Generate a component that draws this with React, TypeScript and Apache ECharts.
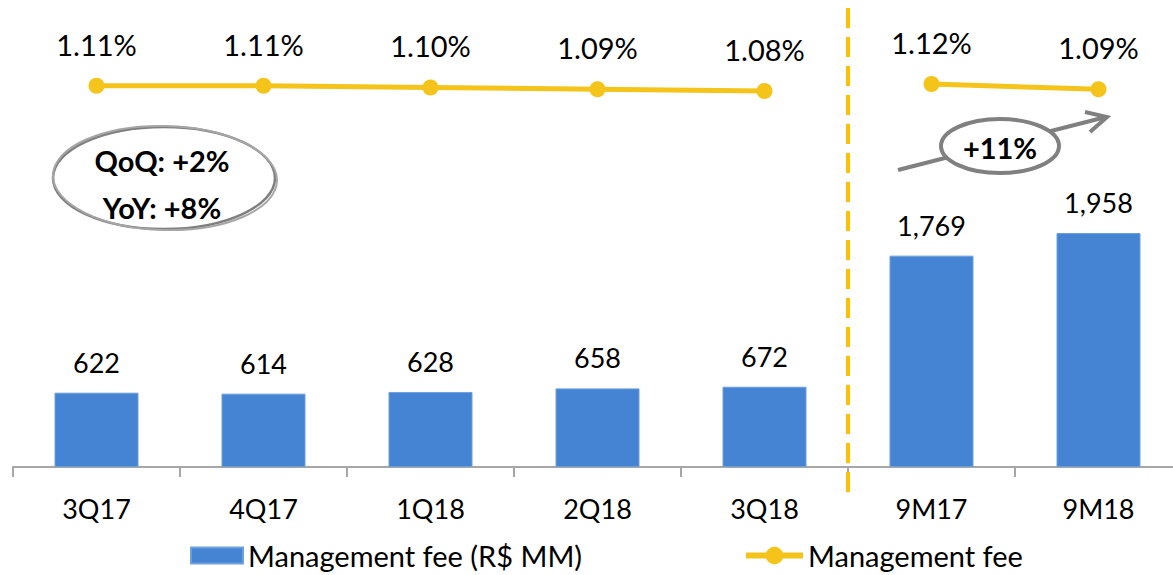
import React, { useEffect, useRef } from "react";
import * as echarts from "echarts";

const categories = ["3Q17", "4Q17", "1Q18", "2Q18", "3Q18", "9M17", "9M18"];
const feeValues = [622, 614, 628, 658, 672, 1769, 1958];
const feeRates = [1.11, 1.11, 1.1, 1.09, 1.08, 1.12, 1.09];
// index at which the 9M block starts (line is broken there)
const splitIndex = 5;
const barName = "Management fee (R$ MM)";
const lineName = "Management fee";
const annotationLeft = ["QoQ: +2%", "YoY: +8%"];
const annotationRight = "+11%";

const FONT = 'Lato, "Noto Sans", sans-serif';
const BLUE = "#4584D3";
const GOLD = "#F5C41A";
const DASH = "#FFC000";
const GREY = "#7F7F7F";

export default function App() {
  const ref = useRef<HTMLDivElement>(null);

  useEffect(() => {
    if (!ref.current) return;
    const chart = echarts.init(ref.current, null, { renderer: "svg" });

    const quarterly = feeRates.map((v, i) => (i < splitIndex ? v : null));
    const nineMonths = feeRates.map((v, i) => (i >= splitIndex ? v : null));

    const lineCommon = {
      type: "line",
      name: lineName,
      yAxisIndex: 1,
      symbol: "circle",
      symbolSize: 16,
      connectNulls: false,
      itemStyle: { color: GOLD },
      lineStyle: { color: GOLD, width: 5 },
      label: {
        show: true,
        position: "top",
        distance: 19,
        color: "#000",
        fontFamily: FONT,
        fontSize: 29,
        formatter: (p: any) => (p.value == null ? "" : Number(p.value).toFixed(2) + "%"),
      },
      z: 5,
    };

    chart.setOption({
      animation: false,
      backgroundColor: "#ffffff",
      textStyle: { fontFamily: FONT },
      grid: { left: 13, top: 1, width: 1169, height: 466, containLabel: false },
      xAxis: {
        type: "category",
        data: categories,
        boundaryGap: true,
        axisLine: { show: true, lineStyle: { color: "#A6A6A6", width: 2 } },
        axisTick: { show: true, length: 10, lineStyle: { color: "#A6A6A6", width: 2 } },
        axisLabel: { color: "#000", fontFamily: FONT, fontSize: 27, margin: 28 },
      },
      yAxis: [
        { type: "value", min: 0, max: 3900, show: false, splitLine: { show: false } },
        { type: "value", min: -1.0687, max: 1.5943, show: false, splitLine: { show: false } },
      ],
      legend: [
        {
          left: 190,
          top: 541,
          padding: 0,
          icon: "rect",
          itemWidth: 52,
          itemHeight: 16,
          itemGap: 0,
          data: [barName],
          textStyle: { color: "#000", fontFamily: FONT, fontSize: 29 },
        },
        {
          left: 743,
          top: 541,
          padding: 0,
          itemWidth: 57,
          itemHeight: 22,
          data: [lineName],
          lineStyle: { width: 6 },
          textStyle: { color: "#000", fontFamily: FONT, fontSize: 29 },
        },
      ],
      series: [
        {
          type: "bar",
          name: barName,
          data: feeValues,
          barWidth: 84,
          itemStyle: { color: BLUE, borderColor: "#6E9FDD", borderWidth: 1 },
          label: {
            show: true,
            position: "top",
            distance: 17,
            color: "#000",
            fontFamily: FONT,
            fontSize: 27,
            formatter: (p: any) => Number(p.value).toLocaleString("en-US"),
          },
        },
        { ...lineCommon, data: quarterly },
        { ...lineCommon, data: nineMonths },
      ],
    });

    const xa = chart.convertToPixel({ xAxisIndex: 0 }, splitIndex - 1) as number;
    const xb = chart.convertToPixel({ xAxisIndex: 0 }, splitIndex) as number;
    const sepX = (xa + xb) / 2;

    const boldText = (text: string, x: number, y: number, size: number) => ({
      type: "text",
      x,
      y,
      style: {
        text,
        fontFamily: FONT,
        fontWeight: "bold",
        fontSize: size,
        fill: "#000",
        align: "center",
        verticalAlign: "middle",
      },
      z: 22,
    });

    chart.setOption({
      graphic: [
        {
          type: "line",
          shape: { x1: sepX, y1: 8, x2: sepX, y2: 500 },
          style: { stroke: DASH, lineWidth: 4, lineDash: [20, 9] },
          z: 10,
        },
        // left annotation ellipse (hand-drawn look)
        {
          type: "ellipse",
          shape: { cx: 164, cy: 178, rx: 111, ry: 51 },
          style: { fill: "#ffffff", stroke: GREY, lineWidth: 2.5 },
          z: 20,
        },
        {
          type: "ellipse",
          shape: { cx: 0, cy: 0, rx: 112, ry: 52 },
          x: 165,
          y: 178,
          rotation: -0.025,
          style: { fill: "none", stroke: "#A6A6A6", lineWidth: 2 },
          z: 21,
        },
        boldText(annotationLeft[0], 162, 160, 29),
        boldText(annotationLeft[1], 162, 207, 29),
        // right arrow
        {
          type: "line",
          shape: { x1: 898, y1: 170, x2: 1106, y2: 117 },
          style: { stroke: "#808080", lineWidth: 4 },
          z: 20,
        },
        {
          type: "polyline",
          shape: { points: [[1085, 112], [1107, 117], [1090, 132]] },
          style: { stroke: "#808080", lineWidth: 4, fill: "none" },
          z: 20,
        },
        {
          type: "ellipse",
          shape: { cx: 1000, cy: 146, rx: 59, ry: 27 },
          style: { fill: "#ffffff", stroke: "#808080", lineWidth: 4 },
          z: 21,
        },
        boldText(annotationRight, 1000, 147, 29),
      ],
    });

    return () => chart.dispose();
  }, []);

  return (
    <div
      style={{
        position: "absolute",
        left: 0,
        top: 0,
        width: 1173,
        height: 575,
        overflow: "hidden",
        background: "#fff",
      }}
    >
      <div ref={ref} style={{ width: 1190, height: 575 }} />
    </div>
  );
}
